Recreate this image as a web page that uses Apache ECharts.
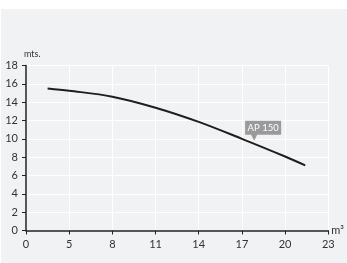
<!DOCTYPE html>
<html>
<head>
<meta charset="utf-8">
<script src="https://cdn.jsdelivr.net/npm/echarts@6/dist/echarts.min.js"></script>
<style>
  html, body { margin: 0; padding: 0; background: #fff; }
  #chart { width: 347px; height: 263px; }
</style>
</head>
<body>
<div id="chart"></div>
<script>
// flow (m3) and head (mts.)
var flow = [3.5, 5.0, 8.0, 11.0, 14.0, 17.0, 20.0, 21.4];
var head = [15.5, 15.25, 14.6, 13.4, 11.85, 10.0, 8.07, 7.1];
// the first tick sits at 2 but is printed as 0 on the original
var xTicks = [2, 5, 8, 11, 14, 17, 20, 23];
var xTickLabels = ['0', '5', '8', '11', '14', '17', '20', '23'];
var curveName = 'AP 150';
var tagAt = [17.85, 9.8];

var chart = echarts.init(document.getElementById('chart'));

var points = [];
for (var i = 0; i < flow.length; i++) {
    points.push([flow[i], head[i]]);
}

var axisText = { color: '#333', fontSize: 11, fontFamily: 'Lato' };

var option = {
    animation: false,
    graphic: [{
        type: 'rect',
        z: -10,
        shape: { x: 1, y: 9, width: 346, height: 254 },
        style: { fill: '#f1f2f4' }
    }],
    grid: { left: 26, right: 16, top: 65.5, bottom: 32.5 },
    xAxis: {
        type: 'value',
        min: 2,
        max: 23,
        name: 'm³',
        nameGap: 3,
        nameTextStyle: { color: '#333', fontSize: 11, fontFamily: 'Lato', verticalAlign: 'middle', padding: [-6, 0, 0, 0] },
        axisLine: { lineStyle: { color: '#222', width: 1.5 } },
        axisTick: { show: true, length: 4, customValues: xTicks, lineStyle: { color: '#222' } },
        axisLabel: {
            customValues: xTicks,
            margin: 8,
            color: axisText.color, fontSize: axisText.fontSize, fontFamily: axisText.fontFamily,
            formatter: function (v) {
                return xTickLabels[xTicks.indexOf(v)];
            }
        },
        splitLine: { show: true, lineStyle: { color: '#ffffff', width: 1 } }
    },
    yAxis: {
        type: 'value',
        min: 0,
        max: 18,
        interval: 2,
        name: 'mts.',
        nameLocation: 'end',
        nameGap: 7,
        nameTextStyle: { color: '#333', fontSize: 9, fontFamily: 'Lato', align: 'left', padding: [0, 0, 0, -2] },
        axisLine: { show: true, lineStyle: { color: '#222', width: 1.5 } },
        axisTick: { show: true, length: 4, lineStyle: { color: '#222' } },
        axisLabel: { margin: 8, color: axisText.color, fontSize: axisText.fontSize, fontFamily: axisText.fontFamily },
        splitLine: { show: true, lineStyle: { color: '#ffffff', width: 1 } }
    },
    series: [{
        name: curveName,
        type: 'line',
        smooth: 0.35,
        showSymbol: false,
        data: points,
        lineStyle: { color: '#1e1e1e', width: 2 },
        markPoint: {
            silent: true,
            data: [{
                coord: tagAt,
                symbol: 'path://M0,0 L36,0 L36,14 L12,14 L9,20 L6,14 L0,14 Z',
                symbolSize: [36, 20],
                symbolKeepAspect: false,
                symbolOffset: [9, -10],
                itemStyle: { color: '#9a9a9a' },
                label: {
                    show: true,
                    formatter: curveName,
                    position: 'inside',
                    offset: [0, -3],
                    color: '#fff',
                    fontSize: 9.5,
                    fontFamily: 'Lato'
                }
            }]
        }
    }]
};

chart.setOption(option);
</script>
</body>
</html>
